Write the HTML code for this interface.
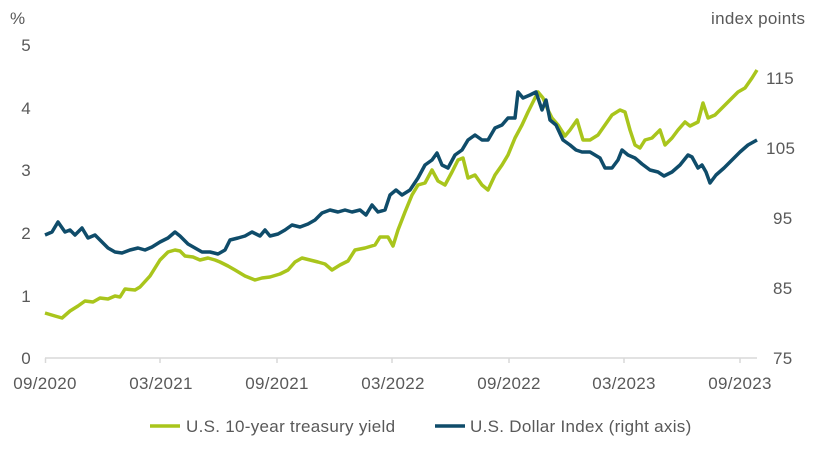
<!DOCTYPE html>
<html><head><meta charset="utf-8"><style>
body{margin:0;background:#fff;}
text{font-family:"Liberation Sans",sans-serif;fill:#595959;font-size:17px;letter-spacing:0.3px;}
</style></head><body>
<svg width="834" height="455" xmlns="http://www.w3.org/2000/svg">
<text x="10" y="24">%</text>
<text x="711" y="24">index points</text>
<g text-anchor="end">
<text x="31" y="364">0</text><text x="31" y="302">1</text><text x="31" y="239">2</text>
<text x="31" y="176">3</text><text x="31" y="114">4</text><text x="31" y="51">5</text>
</g>
<g text-anchor="start">
<text x="773" y="364">75</text><text x="773" y="294">85</text><text x="773" y="224">95</text>
<text x="766" y="154">105</text><text x="766" y="84">115</text>
</g>
<line x1="45" y1="358" x2="757" y2="358" stroke="#d9d9d9" stroke-width="1.5"/>
<g stroke="#d9d9d9" stroke-width="1.5">
<line x1="45.5" y1="358" x2="45.5" y2="363"/><line x1="160" y1="358" x2="160" y2="363"/>
<line x1="277" y1="358" x2="277" y2="363"/><line x1="392" y1="358" x2="392" y2="363"/>
<line x1="509" y1="358" x2="509" y2="363"/><line x1="624" y1="358" x2="624" y2="363"/>
<line x1="740" y1="358" x2="740" y2="363"/>
</g>
<g text-anchor="middle">
<text x="45" y="389">09/2020</text><text x="161" y="389">03/2021</text><text x="277" y="389">09/2021</text>
<text x="393" y="389">03/2022</text><text x="509" y="389">09/2022</text><text x="624" y="389">03/2023</text>
<text x="740" y="389">09/2023</text>
</g>
<polyline fill="none" stroke="#a9c51c" stroke-width="3.5" stroke-linejoin="round" points="45,313 55,316 62,318 70,311 78,306 85,301 93,302 100,298 108,299 115,296 120,297 125,289 135,290 140,287 150,276 160,260 168,252 175,250 180,251 185,256 193,257 200,260 208,258 215,260 220,262 228,266 235,270 245,276 255,280 262,278 270,277 280,274 288,270 295,262 302,258 310,260 318,262 325,264 332,270 340,265 348,261 355,250 365,248 375,245 380,237 388,237 393,246 398,230 405,212 412,195 418,185 425,183 432,170 438,181 445,185 452,172 458,160 463,158 468,178 475,175 482,185 488,190 495,175 502,165 508,155 515,138 522,125 528,112 534,100 538,92 543,98 548,110 552,118 558,125 565,136 570,130 577,120 583,140 590,140 598,135 605,125 612,115 620,110 625,112 630,130 635,145 640,148 645,140 652,138 660,130 665,145 672,138 678,130 685,122 690,126 698,122 703,103 708,118 715,115 722,108 730,100 738,92 745,88 752,78 757,70"/>
<polyline fill="none" stroke="#0f4c6a" stroke-width="3.5" stroke-linejoin="round" points="45,235 52,232 58,222 65,232 70,230 75,235 82,228 88,238 95,235 100,240 108,248 115,252 122,253 130,250 138,248 145,250 152,247 160,242 168,238 175,232 180,236 188,244 195,248 202,252 210,252 218,254 225,250 230,240 238,238 245,236 252,232 260,236 265,230 270,236 278,234 285,230 292,225 300,227 308,224 315,220 322,213 330,210 338,212 345,210 352,212 360,210 366,215 372,205 378,212 385,210 390,195 396,190 402,195 410,190 418,178 425,165 432,160 437,153 442,165 448,168 455,155 462,150 468,140 475,135 482,140 488,140 495,128 502,125 508,118 515,118 518,92 523,98 530,95 536,92 542,110 546,100 550,120 556,125 563,140 570,145 576,150 582,152 590,152 595,155 600,158 605,168 612,168 618,160 622,150 628,155 635,158 642,164 650,170 658,172 664,176 672,172 680,165 688,155 692,157 698,168 702,165 706,172 710,183 716,175 724,168 732,160 740,152 748,145 757,140"/>
<line x1="150" y1="426" x2="180" y2="426" stroke="#a9c51c" stroke-width="3.5"/>
<text x="186" y="432">U.S. 10-year treasury yield</text>
<line x1="435" y1="426" x2="465" y2="426" stroke="#0f4c6a" stroke-width="3.5"/>
<text x="470" y="432">U.S. Dollar Index (right axis)</text>
</svg>
</body></html>
